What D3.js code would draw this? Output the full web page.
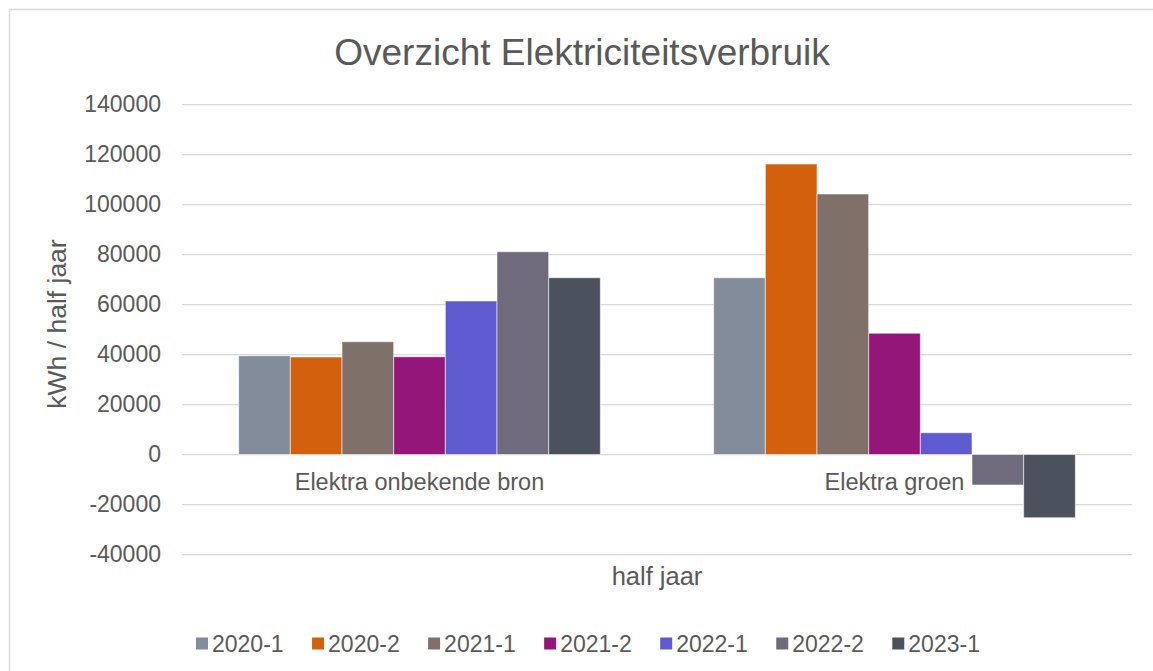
<!DOCTYPE html>
<html lang="en">
<head>
  <meta charset="UTF-8">
  <title>Overzicht Elektriciteitsverbruik</title>
  <script src="https://d3js.org/d3.v7.min.js"></script>
  <style>
    body { margin: 0; background: #fff; }
    text { font-family: "Liberation Sans", Arial, sans-serif; fill: #595959; }
  </style>
</head>
<body>
  <div id="chart"></div>

  <script>
    // Data
    const categories = ["Elektra onbekende bron", "Elektra groen"];
    const periods = ["2020-1", "2020-2", "2021-1", "2021-2", "2022-1", "2022-2", "2023-1"];
    const onbekend = [39500, 39000, 45100, 39100, 61400, 81100, 70700];
    const groen = [70700, 116200, 104200, 48500, 8700, -12200, -25300];
    const yTicks = [-40000, -20000, 0, 20000, 40000, 60000, 80000, 100000, 120000, 140000];
    const colors = ["#838c9b", "#d2600c", "#7f7069", "#951679", "#5e5bd0", "#6f6b7d", "#4b515d"];

    const valuesByCategory = [onbekend, groen];

    const width = 1153, height = 671;
    const plot = { left: 182, right: 1132, top: 104.5, bottom: 554.5 };

    const svg = d3.select("#chart")
      .append("svg")
      .attr("width", width)
      .attr("height", height);

    // Chart frame
    svg.append("rect")
      .attr("x", 9.5).attr("y", 9.5)
      .attr("width", 1160).attr("height", 680)
      .attr("fill", "#fff")
      .attr("stroke", "#d9d9d9")
      .attr("stroke-width", 1.5);

    // Scales
    const x0 = d3.scaleBand()
      .domain(categories)
      .range([plot.left, plot.right])
      .paddingInner(0.2386)
      .paddingOuter(0.1193);
    const x1 = d3.scaleBand()
      .domain(periods)
      .range([0, x0.bandwidth()]);
    const y = d3.scaleLinear()
      .domain([-40000, 140000])
      .range([plot.bottom, plot.top]);
    const color = d3.scaleOrdinal()
      .domain(periods)
      .range(colors);

    // Gridlines
    svg.append("g")
      .selectAll("line")
      .data(yTicks)
      .join("line")
      .attr("x1", plot.left)
      .attr("x2", plot.right)
      .attr("y1", d => y(d))
      .attr("y2", d => y(d))
      .attr("stroke", "#d9d9d9")
      .attr("stroke-width", 1.25);

    // Y axis labels (plain hyphen for negatives, like Excel)
    const yAxis = svg.append("g")
      .attr("transform", `translate(161,0)`)
      .call(d3.axisLeft(y).tickValues(yTicks).tickSize(0).tickPadding(0).tickFormat(d => String(d)));
    yAxis.select(".domain").remove();
    yAxis.selectAll("text")
      .attr("font-size", 23)
      .attr("fill", "#595959")
      .style("font-family", '"Liberation Sans", Arial, sans-serif');

    // Bars
    const rows = categories.map((c, i) => ({
      category: c,
      bars: periods.map((p, j) => ({ period: p, value: valuesByCategory[i][j] }))
    }));

    svg.append("g")
      .selectAll("g")
      .data(rows)
      .join("g")
      .attr("transform", d => `translate(${x0(d.category)},0)`)
      .selectAll("rect")
      .data(d => d.bars)
      .join("rect")
      .attr("x", d => x1(d.period))
      .attr("width", x1.bandwidth())
      .attr("y", d => y(Math.max(0, d.value)))
      .attr("height", d => Math.abs(y(d.value) - y(0)))
      .attr("fill", d => color(d.period))
      .attr("stroke", "rgba(255,255,255,0.55)")
      .attr("stroke-width", 1);

    // Category labels
    svg.append("g")
      .selectAll("text")
      .data(categories)
      .join("text")
      .attr("x", d => x0(d) + x0.bandwidth() / 2)
      .attr("y", 490)
      .attr("text-anchor", "middle")
      .attr("font-size", 23.5)
      .text(d => d);

    // Title
    svg.append("text")
      .attr("x", 582)
      .attr("y", 65)
      .attr("text-anchor", "middle")
      .attr("font-size", 37)
      .text("Overzicht Elektriciteitsverbruik");

    // Axis titles
    svg.append("text")
      .attr("x", (plot.left + plot.right) / 2)
      .attr("y", 585)
      .attr("text-anchor", "middle")
      .attr("font-size", 25.5)
      .text("half jaar");

    svg.append("text")
      .attr("transform", "translate(66,324) rotate(-90)")
      .attr("text-anchor", "middle")
      .attr("font-size", 26.5)
      .text("kWh / half jaar");

    // Legend
    const legend = svg.append("g")
      .selectAll("g")
      .data(periods)
      .join("g")
      .attr("transform", (d, i) => `translate(${196 + i * 116.05},0)`);
    legend.append("rect")
      .attr("x", 0)
      .attr("y", 637.5)
      .attr("width", 12)
      .attr("height", 12)
      .attr("fill", d => color(d));
    legend.append("text")
      .attr("x", 16)
      .attr("y", 652)
      .attr("font-size", 23)
      .text(d => d);
  </script>
</body>
</html>
